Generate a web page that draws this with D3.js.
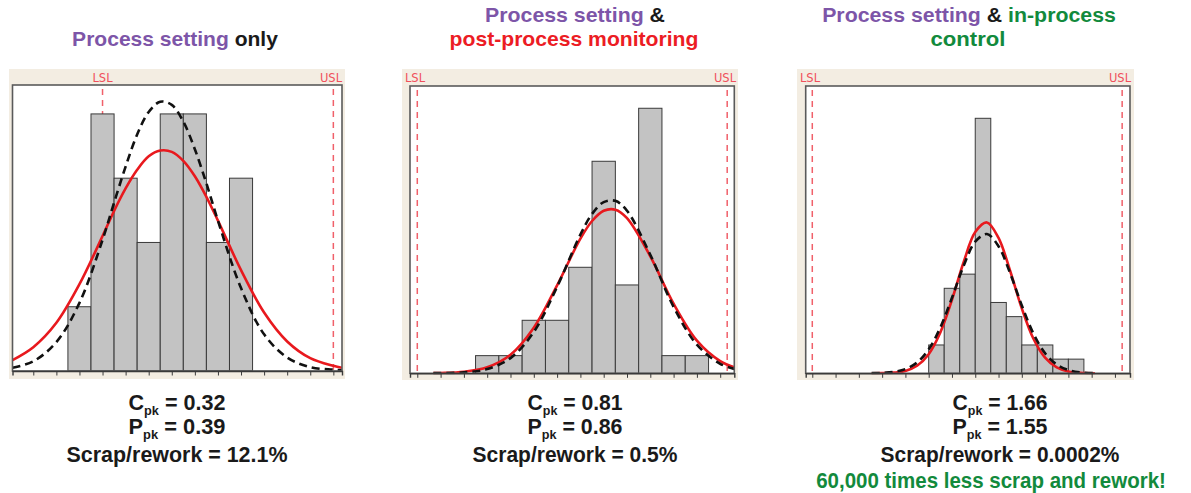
<!DOCTYPE html>
<html><head><meta charset="utf-8">
<script src="https://cdn.jsdelivr.net/npm/d3@7"></script>
<style>
html,body{margin:0;padding:0;background:#fff;}
svg{display:block;}
text{font-family:"Liberation Sans Narrow","Liberation Sans",Arial,sans-serif;font-weight:bold;}
</style></head>
<body>
<svg id="chart" width="1191" height="493"></svg>
<script>
// ---------------- DATA ----------------
// Panel 1: Process setting only
const binCenters1 = [3, 4, 5, 6, 7, 8, 9, 10];
const counts1     = [1, 4, 3, 2, 4, 4, 2, 3];
const binWidth1   = 1;
const ticks1      = [1,2,3,4,5,6,7,8,9,10,11,12,13,14];
const lsl1 = 4, usl1 = 14;
const overall1 = [[0.1,0.17],[1,0.37],[2,0.75],[3,1.35],[4,2.10],[4.5,2.49],[5,2.84],[5.5,3.13],[6,3.34],[6.5,3.43],[7,3.41],[7.5,3.27],[8,3.03],[8.5,2.71],[9,2.34],[10,1.57],[11,0.91],[12,0.46],[13,0.20],[14,0.08],[14.37,0.05]];
const within1  = [[0.1,0.05],[1,0.15],[2,0.45],[3,1.06],[4,2.04],[4.5,2.62],[5,3.18],[5.5,3.68],[6,4.03],[6.5,4.19],[7,4.14],[7.5,3.88],[8,3.45],[8.5,2.92],[9,2.34],[10,1.29],[11,0.57],[12,0.21],[13,0.06],[14,0.02],[14.37,0.01]];

// Panel 2: Process setting & post-process monitoring
const binCenters2 = [3, 4, 5, 6, 7, 8, 9, 10, 11, 12];
const counts2     = [1, 1, 3, 3, 6, 12, 5, 15, 1, 1];
const binWidth2   = 1;
const ticks2      = [0,1,2,3,4,5,6,7,8,9,10,11,12,13];
const lsl2 = 0, usl2 = 13.3;
const overall2 = [[0.69,0.01],[1,0.02],[2,0.09],[3,0.34],[4,1.05],[5,2.58],[6,4.98],[7,7.62],[7.5,8.62],[8,9.20],[8.5,9.26],[9,8.78],[10,6.62],[11,3.94],[12,1.85],[13,0.69],[13.6,0.34]];
const within2  = [[0.69,0.01],[1,0.01],[2,0.05],[3,0.24],[4,0.86],[5,2.34],[6,4.90],[7,7.85],[7.5,9.02],[8,9.69],[8.5,9.76],[9,9.20],[10,6.71],[11,3.76],[12,1.62],[13,0.54],[13.6,0.25]];

// Panel 3: Process setting & in-process control
const binCenters3 = [5.333, 6, 6.667, 7.333, 8, 8.667, 9.333, 10, 10.667, 11.333];
const counts3     = [2, 6, 7, 18, 5, 4, 2, 2, 1, 1];
const binWidth3   = 0.667;
const ticks3      = [0,1,2,3,4,5,6,7,8,9,10,11,12,13];
const lsl3 = 0, usl3 = 13.31;
const overall3 = [[2.55,0.0],[3,0.01],[3.5,0.05],[4,0.17],[4.5,0.53],[5,1.35],[5.5,2.88],[6,5.19],[6.5,7.84],[7,9.97],[7.5,10.65],[8,9.56],[8.5,7.22],[9,4.58],[9.5,2.44],[10,1.10],[10.5,0.41],[11,0.13],[11.5,0.03],[12.14,0.0]];
const within3  = [[2.55,0.01],[3,0.03],[3.5,0.10],[4,0.30],[4.5,0.76],[5,1.69],[5.5,3.23],[6,5.33],[6.5,7.58],[7,9.29],[7.5,9.83],[8,8.97],[8.5,7.06],[9,4.79],[9.5,2.80],[10,1.42],[10.5,0.62],[11,0.23],[11.5,0.07],[12.14,0.01]];

// Text
const titleLines = [
  [ {y:46, w:206, cx:175, parts:[["Process setting","purple"],[" only","black"]]} ],
  [ {y:22, w:180, cx:575, parts:[["Process setting","purple"],[" &","black"]]},
    {y:46, w:249, cx:574, parts:[["post-process monitoring","red"]]} ],
  [ {y:22, w:294, cx:969, parts:[["Process setting","purple"],[" & ","black"],["in-process","green"]]},
    {y:46, w:75, cx:968, parts:[["control","green"]]} ]
];
const cpkValues   = ["0.32", "0.81", "1.66"];
const ppkValues   = ["0.39", "0.86", "1.55"];
const scrapValues = ["12.1%", "0.5%", "0.0002%"];
const footnote    = "60,000 times less scrap and rework!";

// ---------------- LAYOUT ----------------
const colors = {purple:"#7d55a8", black:"#1a1a1a", red:"#ec1c24", green:"#128a3c"};
const panels = [
  {bins:binCenters1, counts:counts1, bw:binWidth1, ticks:ticks1, lsl:lsl1, usl:usl1, overall:overall1, within:within1,
   frame:[9,69,345,379], box:[12.5,85,342,371], xdom:[0.099,14.375], ymax:4.45,
   lslLab:{x:102.5, anchor:"middle"}, uslLab:{x:331, anchor:"middle"}, cx:177},
  {bins:binCenters2, counts:counts2, bw:binWidth2, ticks:ticks2, lsl:lsl2, usl:usl2, overall:overall2, within:within2,
   frame:[402,69,738,380], box:[410,86,734.3,373.3], xdom:[-0.313,13.605], ymax:16.26,
   lslLab:{x:415, anchor:"middle"}, uslLab:{x:725, anchor:"middle"}, cx:575},
  {bins:binCenters3, counts:counts3, bw:binWidth3, ticks:ticks3, lsl:lsl3, usl:usl3, overall:overall3, within:within3,
   frame:[797,69,1134,380], box:[805.7,86,1130,373.3], xdom:[-0.283,13.647], ymax:20.28,
   lslLab:{x:810, anchor:"middle"}, uslLab:{x:1120, anchor:"middle"}, cx:1000}
];

const svg = d3.select("#chart");

function fitText(sel, cx, y, w){
  const len = sel.node().getComputedTextLength();
  const k = w / len;
  sel.attr("text-anchor","middle").attr("x",0).attr("y",0)
     .attr("transform",`translate(${cx},${y}) scale(${k},1)`);
}

panels.forEach((p, i) => {
  const g = svg.append("g");
  const [fx0,fy0,fx1,fy1] = p.frame;
  const [bx0,by0,bx1,by1] = p.box;
  g.append("rect").attr("x",fx0).attr("y",fy0).attr("width",fx1-fx0).attr("height",fy1-fy0).attr("fill","#f3ede2");
  g.append("rect").attr("x",bx0).attr("y",by0).attr("width",bx1-bx0).attr("height",by1-by0).attr("fill","#fff");

  const x = d3.scaleLinear().domain(p.xdom).range([bx0,bx1]);
  const y = d3.scaleLinear().domain([0,p.ymax]).range([by1,by0]);

  // spec limits
  [p.lsl, p.usl].forEach(v => {
    g.append("line").attr("x1",x(v)).attr("x2",x(v)).attr("y1",by0+4).attr("y2",by1)
      .attr("stroke","#f0606a").attr("stroke-width",1.5).attr("stroke-dasharray","6,5");
  });

  // bars
  g.selectAll("rect.bar").data(p.bins.map((c,j)=>({c, n:p.counts[j]}))).enter().append("rect")
    .attr("class","bar")
    .attr("x", d => x(d.c - p.bw/2)).attr("width", d => x(d.c + p.bw/2) - x(d.c - p.bw/2))
    .attr("y", d => y(d.n)).attr("height", d => y(0) - y(d.n))
    .attr("fill","#c3c3c3").attr("stroke","#3a3a3a").attr("stroke-width",1);

  const line = d3.line().x(d => x(d[0])).y(d => y(d[1])).curve(d3.curveCatmullRom.alpha(0.5));
  const clipId = "clip"+i;
  svg.append("clipPath").attr("id",clipId).append("rect").attr("x",bx0).attr("y",by0).attr("width",bx1-bx0).attr("height",by1-by0+1);
  g.append("path").attr("d", line(p.overall)).attr("fill","none").attr("stroke","#e8191e").attr("stroke-width",2.6).attr("clip-path",`url(#${clipId})`);
  g.append("path").attr("d", line(p.within)).attr("fill","none").attr("stroke","#111").attr("stroke-width",2.6)
    .attr("stroke-dasharray","8,5").attr("clip-path",`url(#${clipId})`);

  // box border
  g.append("rect").attr("x",bx0).attr("y",by0).attr("width",bx1-bx0).attr("height",by1-by0)
    .attr("fill","none").attr("stroke","#5a5a5a").attr("stroke-width",1.6);

  // axis ticks
  const axis = d3.axisBottom(x).tickValues(p.ticks).tickSize(4.5).tickFormat("");
  const ag = g.append("g").attr("transform",`translate(0,${by1})`).call(axis);
  ag.select(".domain").attr("stroke","#3a3a3a").attr("stroke-width",1.4);
  ag.selectAll(".tick line").attr("stroke","#3a3a3a");

  // LSL / USL labels
  const lab = (t, o) => g.append("text").attr("x",o.x).attr("y",81.5).attr("text-anchor",o.anchor)
      .attr("fill","#f0505c").style("font-family","'DejaVu Sans',Verdana,sans-serif").style("font-weight","normal")
      .style("font-size","11.5px").text(t);
  lab("LSL", p.lslLab); lab("USL", p.uslLab);

  // Titles
  titleLines[i].forEach(L => {
    const t = svg.append("text").style("font-size","20px");
    L.parts.forEach(([s,c]) => t.append("tspan").attr("fill",colors[c]).text(s));
    fitText(t, L.cx, L.y, L.w);
  });
});

// Bottom statistics
const statW = {cpk:[97,95,95], scrap:[221,205,239]};
panels.forEach((p,i) => {
  [["C",cpkValues[i],410],["P",ppkValues[i],434]].forEach(([letter,val,yy]) => {
    const t = svg.append("text").style("font-size","22px").attr("fill","#1a1a1a");
    t.append("tspan").text(letter);
    t.append("tspan").style("font-size","13px").attr("dy",5).text("pk");
    t.append("tspan").attr("dy",-5).text(" = " + val);
    fitText(t, p.cx, yy, statW.cpk[i]);
  });
  const s = svg.append("text").style("font-size","22px").attr("fill","#1a1a1a").text("Scrap/rework = " + scrapValues[i]);
  fitText(s, p.cx, 462, statW.scrap[i]);
});
const fn = svg.append("text").style("font-size","22px").attr("fill",colors.green).text(footnote);
fitText(fn, 991, 488, 350);
</script>
</body></html>
